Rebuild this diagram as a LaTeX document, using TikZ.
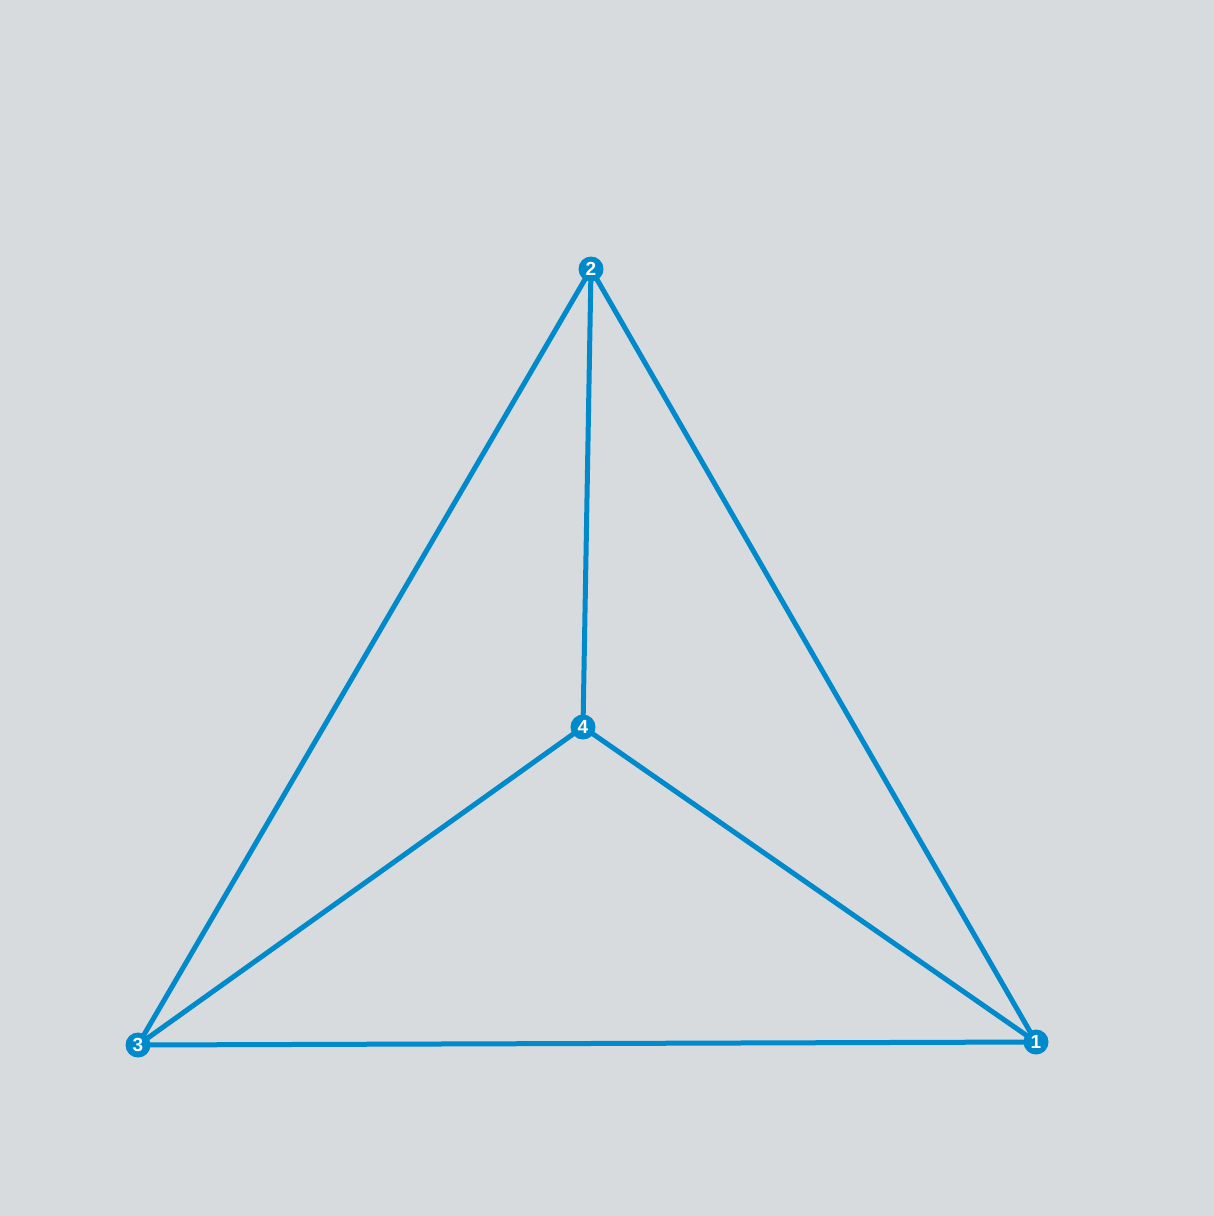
\documentclass[tikz,border=0pt]{standalone}
\usepackage{fontspec}
\setmainfont{Liberation Sans}
\definecolor{bg}{HTML}{D7DBDD}
\definecolor{edgeblue}{HTML}{0089CB}
\begin{document}
\begin{tikzpicture}[x=1pt,y=-1pt,
  vertex/.style={circle,fill=edgeblue,minimum size=25pt,inner sep=0pt,text=white,font=\bfseries\fontsize{19}{19}\selectfont},
  link/.style={draw=edgeblue,line width=5pt}]
\fill[bg] (0,0) rectangle (1214,1216);
\useasboundingbox (0,0) rectangle (1214,1216);
\coordinate (c1) at (1036,1042);
\coordinate (c2) at (591,269);
\coordinate (c3) at (138,1045);
\coordinate (c4) at (583,727);
\draw[link] (c2) -- (c1);
\draw[link] (c2) -- (c3);
\draw[link] (c2) -- (c4);
\draw[link] (c4) -- (c3);
\draw[link] (c4) -- (c1);
\draw[link] (c3) -- (c1);
\node[vertex] (n1) at (c1) {1};
\node[vertex] (n2) at (c2) {2};
\node[vertex] (n3) at (c3) {3};
\node[vertex] (n4) at (c4) {4};
\end{tikzpicture}
\end{document}
